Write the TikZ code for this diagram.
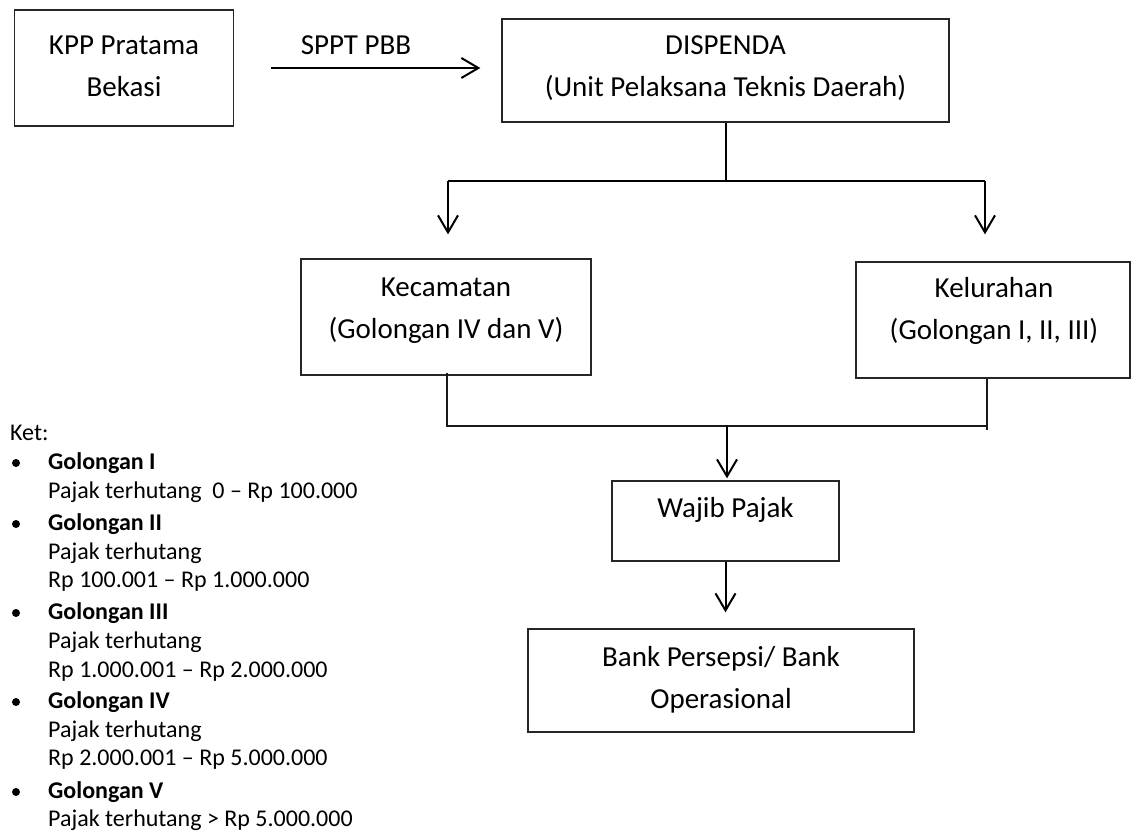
\documentclass[tikz,border=0pt]{standalone}
\usepackage{fontspec}
\setmainfont{Carlito}
\usetikzlibrary{arrows.meta}
\tikzset{
  box/.style={draw=black!85, line width=1.3pt, inner sep=0pt},
  boxtext/.style={align=center, inner sep=0pt, font=\fontsize{29}{42}\selectfont},
  conn/.style={draw=black, line width=2pt},
  thinconn/.style={draw=black!90, line width=1.7pt},
  arr/.style={conn, -{Straight Barb[length=17pt,width=20pt]}},
  legtext/.style={anchor=west, inner sep=0pt, font=\fontsize{24}{29}\selectfont},
  bulletdot/.style={circle, fill=black, inner sep=0pt, minimum size=8pt}
}
\begin{document}
\begin{tikzpicture}[x=1pt,y=-1pt]
\useasboundingbox (0,0) rectangle (1133,834);

% boxes
\node[box, minimum width=219pt, minimum height=116pt] (kpp) at (124,68) {};
\node[boxtext] (kppt) at (124,66) {KPP Pratama\\Bekasi};

\node[box, minimum width=447pt, minimum height=103pt] (disp) at (725.5,70.5) {};
\node[boxtext] (dispt) at (725.5,68) {DISPENDA\\(Unit Pelaksana Teknis Daerah)};

\node[box, minimum width=290pt, minimum height=116pt] (kec) at (446,317) {};
\node[boxtext] (kect) at (446,311) {Kecamatan\\(Golongan IV dan V)};

\node[box, minimum width=274pt, minimum height=116pt] (kel) at (993,320) {};
\node[boxtext] (kelt) at (994,311) {Kelurahan\\(Golongan I, II, III)};

\node[box, minimum width=227pt, minimum height=80pt] (wp) at (725.5,521) {};
\node[boxtext] (wpt) at (725.5,510) {Wajib Pajak};

\node[box, minimum width=386pt, minimum height=103pt] (bank) at (721,680.5) {};
\node[boxtext] (bankt) at (721,680) {Bank Persepsi/ Bank\\Operasional};

% label
\node[boxtext] (sppt) at (356,45) {SPPT PBB};

% connectors
\draw[arr, shorten <=37pt, shorten >=21pt] (kpp.east) -- (kpp.east -| disp.west);

\coordinate (jl) at (448,181);
\coordinate (jr) at (985,181);
\draw[conn] (disp.south) -- (disp.south |- jl);
\draw[conn] (jl) -- (jr);
\draw[arr, shorten >=24pt] (jl) -- (jl |- kec.north);
\draw[arr, shorten >=27pt] (jr) -- (jr |- kel.north);

\coordinate (bl) at (447,426);
\coordinate (br) at (987,426);
\coordinate (bm) at (727,426);
\draw[thinconn] ([yshift=3pt]kec.south -| bl) -- (bl) -- (br);
\draw[thinconn] (kel.south -| br) -- ([yshift=-4pt]br);
\draw[arr, shorten >=2pt] (bm) -- (bm |- wp.north);
\draw[arr, shorten >=16pt] (wp.south) -- (wp.south |- bank.north);

% legend
\node[legtext] (ket) at (10,433) {Ket:};
\node[bulletdot] (b1) at (16,463) {};
\node[legtext] (g1) at (48,463) {\textbf{Golongan I}};
\node[legtext] (g1a) at (48,492) {Pajak terhutang\ \ 0 – Rp 100.000};
\node[bulletdot] (b2) at (16,524) {};
\node[legtext] (g2) at (48,524) {\textbf{Golongan II}};
\node[legtext] (g2a) at (48,553) {Pajak terhutang};
\node[legtext] (g2b) at (48,582) {Rp 100.001 – Rp 1.000.000};
\node[bulletdot] (b3) at (16,613) {};
\node[legtext] (g3) at (48,613) {\textbf{Golongan III}};
\node[legtext] (g3a) at (48,642) {Pajak terhutang};
\node[legtext] (g3b) at (48,672) {Rp 1.000.001 – Rp 2.000.000};
\node[bulletdot] (b4) at (16,702) {};
\node[legtext] (g4) at (48,702) {\textbf{Golongan IV}};
\node[legtext] (g4a) at (48,731) {Pajak terhutang};
\node[legtext] (g4b) at (48,760) {Rp 2.000.001 – Rp 5.000.000};
\node[bulletdot] (b5) at (16,792) {};
\node[legtext] (g5) at (48,792) {\textbf{Golongan V}};
\node[legtext] (g5a) at (48,820) {Pajak terhutang > Rp 5.000.000};
\end{tikzpicture}
\end{document}
